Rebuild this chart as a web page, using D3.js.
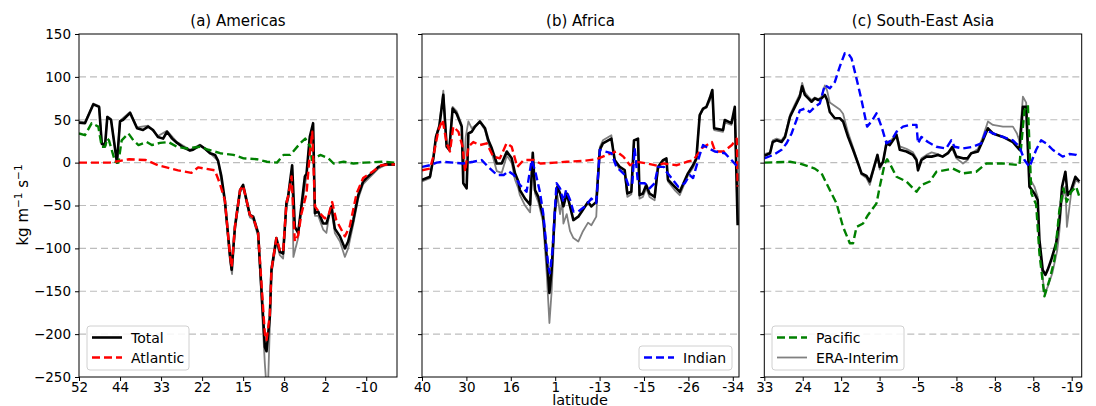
<!DOCTYPE html>
<html>
<head>
<meta charset="utf-8">
<script src="https://cdn.jsdelivr.net/npm/d3@7"></script>
<style>
  body { margin: 0; background: #fff; }
  text { font-family: "DejaVu Sans", sans-serif; }
</style>
</head>
<body>
<svg id="chart" width="1096" height="406"></svg>
<script>
// x values are positions along the boundary (index), tick labels are the latitudes there
const amTicks = ['52', '44', '33', '22', '15', '8', '2', '-10']
const afTicks = ['40', '30', '16', '1', '-13', '-15', '-26', '-34']
const seTicks = ['33', '24', '12', '3', '-5', '-8', '-8', '-8', '-19']

// (a) Americas
const amTotal = [[0,46.5],[2.9,46],[7,68],[9.8,65],[11.1,22],[12.7,20],[13.8,53],[15.6,50],[18.5,0],[20,48],[21.5,50],[24.9,58],[28.3,40],[31.2,38],[33.7,42],[36.1,38],[38.5,30],[41,28],[42.9,36],[45.4,28],[47.8,23],[50.7,18],[54.1,14],[55.6,15],[59,20],[61,17],[63.9,11],[66.3,9],[67.8,2],[69.4,-16],[71.1,-44],[73.5,-106],[74.4,-125],[76,-75],[78.5,-32],[80,-26],[83.3,-61],[84.9,-63],[87.3,-82],[90.6,-215],[91.4,-220],[93,-180],[93.8,-125],[96.2,-88],[97.9,-104],[99.5,-106],[101.1,-47],[101.9,-40],[103.9,-3],[105.2,-75],[106.8,-82],[108.4,-51],[110.1,-16],[110.9,-13],[112.5,30],[114.1,46],[115,-59],[116.6,-57],[119,-71],[120.6,-71],[123.1,-51],[124.7,-77],[127.2,-86],[129.6,-100],[131.2,-92],[133.7,-67],[136.1,-38],[138.5,-22],[140.1,-18],[143.4,-11],[145.9,-5],[149.1,-2],[154,-2]]
const amAtlantic = [[0,0],[15,0],[24.4,4],[32.5,3],[38.5,-3],[42.6,-5.5],[48.3,-9],[54.8,-12],[58.1,-5.5],[61.3,-7],[66.2,-9],[68.6,-24],[71.1,-44],[73.5,-106],[74.4,-122],[76,-75],[78.5,-32],[80,-27],[83.3,-61],[84.9,-64],[87.3,-82],[90.6,-200],[91.4,-207],[93,-178],[93.8,-125],[96.2,-88],[97.9,-102],[99.5,-104],[101.1,-47],[101.9,-40],[103.6,-16],[105.2,-92],[106.8,-85],[108.4,-60],[110.9,-36],[112.5,11],[113.7,36],[115,-51],[117.4,-59],[119.8,-65],[121.4,-63],[123.4,-46],[125.4,-67],[129.6,-86],[131.9,-75],[135.3,-36],[138.5,-18],[142.9,-11],[147.3,-3],[154,-2]]
const amPacific = [[0,34],[2.9,32],[6.2,46],[9.4,42],[11.1,18.5],[12.7,18.5],[13.8,28],[14.6,26],[17.6,1],[19.2,0],[20.8,26],[24.1,34],[26.5,26],[29,20.5],[33,24],[35.5,20.5],[39.5,23],[43.6,24],[47.7,18.5],[52.5,16.5],[59,18.5],[63.1,15],[68.8,11],[75.3,9],[80.2,5],[86.7,4],[91.6,1],[96.5,0],[99.7,9],[103,9],[107.8,22.5],[110.3,28],[112.7,18.5],[113.5,3],[117.6,9],[121.6,5],[124.1,-1],[129,1],[133.8,-1],[139,0],[148.3,1],[154,0]]
const amEra = [[0,48],[2.9,47],[7,69],[9.8,66],[11.1,24],[12.7,21],[13.8,54],[15.6,51],[18.5,1],[20,49],[24.9,59],[28.3,41],[33.7,43],[38.5,31],[42.9,37],[47.8,24],[54.1,15],[59,21],[63.9,11],[67.8,2],[71.1,-46],[73.5,-112],[74.6,-130],[76,-80],[78.5,-35],[80,-29],[83.3,-64],[84.9,-66],[87.3,-86],[90.6,-235],[91.4,-262],[92.2,-255],[93.8,-130],[96.2,-93],[97.9,-108],[99.5,-112],[101.1,-52],[101.9,-44],[103.9,-8],[104.5,-110],[106.8,-88],[108.4,-55],[110.9,-15],[112.5,28],[114.1,44],[115,-62],[116.6,-62],[119,-78],[120.6,-82],[122,-60],[123.1,-56],[124.7,-82],[127.2,-92],[129.6,-110],[131.2,-100],[133.7,-72],[136.1,-42],[138.5,-25],[140.1,-21],[143.4,-13],[145.9,-7],[149.1,-3],[154,-3]]

// (b) Africa
const afTotal = [[0,-20],[3.6,-16.5],[5.1,5],[6.3,30],[7.8,42],[9.6,79],[11.1,18.5],[12.3,15],[13.8,63],[15.6,57],[17.9,42],[18.6,-24],[20.1,-30],[20.9,34],[22.4,36],[23.9,42],[26.1,48],[28.4,40],[29.9,26],[31.4,17],[33.7,-1],[35.9,-1],[38.2,13],[40.4,5],[41.9,-12.5],[43.4,-22],[44.1,-32],[46.4,-42],[48.7,-49],[49.9,11.5],[50.9,-32],[52.4,-40],[54.6,-63],[56.2,-110],[57.4,-152],[58.4,-125],[59.9,-55],[61,-28],[62.2,-36],[63.7,-51],[65.2,-36],[66.7,-51],[68.2,-67],[70.4,-63],[72.5,-55],[74.8,-46],[76.3,-51],[78.5,-46],[80.1,15],[81.5,22.5],[85.3,28],[86.8,3],[89.1,-5],[91.3,-8.6],[92.5,-36],[94.3,-34],[95.5,26],[97.3,28],[98,-38],[99.5,-36],[101,-26],[102.5,-36],[104.8,-40],[106.3,-5],[108.6,3],[110.1,5],[110.8,-20],[113.8,-28],[116.1,-34],[119.8,-12.5],[122.1,-3],[123.6,5],[125.1,55.5],[126.6,63],[128.1,65],[129.6,75],[130.8,84.7],[131.6,40],[135.6,38],[136.4,49.7],[139.4,46],[140.9,65],[142.2,-73]]
const afAtlantic = [[0,-9],[3.6,-7],[5.1,7],[7.4,38],[9.3,50],[11.1,22.5],[12.6,13],[14.1,42],[16.4,36],[18.3,18.5],[19.4,-10.6],[20.9,18.5],[23.1,24],[26.1,20.5],[29.1,22.5],[32.1,7],[35.1,5],[38.1,22.5],[40.4,18.5],[42.9,-5],[45.8,3],[50.3,3],[53.3,-1],[59.9,0],[65.2,1],[72.7,2],[78.7,4],[83.2,9],[87.7,13],[90.7,7],[93.7,-3],[96.7,1],[101.3,-1],[105.8,-3.5],[108.8,-1],[114.8,-3],[119.3,1],[122.3,3],[126.1,17],[130.6,24],[132.1,13],[135.9,13],[139.6,20.5],[141.8,28],[142.2,-28]]
const afIndian = [[0,-5],[3.6,-3],[6.6,0],[9.6,1],[14.1,0],[18.6,-1],[23.1,1],[26.9,3],[29.5,-4],[33.8,-14.5],[36.8,-14.5],[39,-10],[41.4,-14.5],[44.1,-26],[47.1,-34],[49.4,3],[50.9,-9],[53.1,-34],[54.6,-59],[56.9,-121],[57.6,-129],[58.8,-102],[60.6,-24],[62.2,-30],[63.7,-45.6],[64.9,-32],[66.7,-43.6],[68.2,-57],[70.4,-57],[73.4,-51],[76.3,-42],[78.5,-47],[80.1,15],[82.4,13],[85.3,11],[87.6,-5],[91.4,-14.5],[92.9,-26],[94.7,-26],[95.8,17],[97.3,-24],[100.4,-24],[102.5,-30],[104.8,-24],[106.3,-5],[109,-5],[110.1,-10.6],[112.4,-18],[115.4,-28],[118.4,-24],[120.6,-14.5],[122.1,-18],[125.1,9],[126.6,20.5],[128.9,17],[131.9,13],[136.4,11],[139.4,3],[142.2,-5]]
const afEra = [[0,-22],[3.6,-18],[5.1,4],[6.3,31],[7.8,45],[9.6,84],[11.1,20],[12.3,17],[13.8,65],[15.6,60],[17.9,44],[18.6,-20],[19.7,30],[20.9,48],[22.4,40],[23.9,43],[26.1,47],[28.4,38],[29.9,22],[31.4,12],[33.7,-10],[35.9,-12],[38.2,8],[40.4,0],[41.9,-20],[43.4,-30],[44.1,-38],[46.4,-50],[48.7,-58],[49.9,8],[50.9,-36],[52.4,-46],[54.6,-70],[56.2,-130],[57.4,-187],[58.4,-150],[59.9,-60],[61,-38],[62.2,-60],[63.2,-44],[63.7,-71],[65.2,-60],[66.7,-80],[68.2,-88],[70.4,-92],[72.5,-80],[74.8,-70],[76.3,-73],[78.5,-63],[80.1,18],[81.5,26],[85.3,32],[86.8,2],[89.1,-8],[91.3,-12],[92.5,-40],[94.3,-37],[95.5,26],[97.3,26],[98,-42],[99.5,-40],[101,-30],[102.5,-40],[104.8,-44],[106.3,-8],[108.6,2],[110.1,3],[110.8,-22],[113.8,-32],[116.1,-38],[119.8,-15],[122.1,-6],[123.6,3],[125.1,55],[126.6,62],[128.1,64],[129.6,72],[130.8,80],[131.6,38],[135.6,36],[136.4,47],[139.4,44],[140.9,62],[142.2,-70]]

// (c) South-East Asia
const seTotal = [[0,8],[3,11],[4.4,24],[6.4,26],[9,24],[10.8,30],[13.4,53.5],[15.9,65],[18.5,77],[19.7,89],[21.1,79],[22.9,75],[24.6,71],[26.3,75],[28.1,73],[29.8,75],[31.5,79],[32.7,73],[34.1,59],[36.7,51.7],[39.3,51.7],[41,48],[43.6,30],[46.2,15],[48.8,-1],[50.6,-12.5],[53.2,-15.6],[54.9,-22],[56.6,-9],[58.9,9],[60.1,-5],[61.8,1],[63.6,22.5],[65.3,20.5],[68.8,32],[70.5,15],[74,13],[77.4,9],[79.2,3],[80,-9],[81.8,3],[84.4,7],[87.1,7],[90.4,9],[92.8,7],[95.6,11],[97.9,18.5],[100,7],[103.4,5],[105.8,5],[107.7,11],[111.2,13],[113.8,26],[116.4,40],[119,34],[124.2,30],[129.4,24],[132.8,15],[134.6,65],[136.3,65],[138,-28],[140.6,-36],[142.3,-43.6],[143.2,-90],[144.9,-125],[146.3,-131],[147.5,-125],[149.3,-113.6],[151.9,-94],[153.6,-67],[155,-28],[156.7,-10.6],[157.9,-38],[159.7,-32],[161.9,-16.5],[164,-22]]
const seIndian = [[0,5],[4.7,9],[9,15],[11.6,22.5],[14.2,34],[16.8,50],[18.5,61],[21.1,63],[23.7,59],[26.3,65],[28.9,69],[31.5,90.5],[34.1,86.6],[36.7,94],[39.3,112],[41.9,127.5],[43.6,127.5],[45.4,121.6],[48,98],[50.6,73],[53.5,42],[55.8,48],[58.4,57.5],[61,42],[63.6,22.5],[66.2,26],[68.8,36],[72.2,42],[75.7,44],[79.2,44],[80,22.5],[81.8,30],[85.2,24],[89.5,18.5],[94.7,16.5],[97.3,26],[99,18.5],[103.4,16.5],[108.6,18.5],[112.9,22.5],[115.6,38],[119,34],[124.2,30],[129.4,26],[132.8,18.5],[135.4,3],[138,-5],[141.5,15],[144.1,26],[146.7,22.5],[150.1,15],[155.3,7],[158.8,10],[162.3,9],[164,7]]
const sePacific = [[0,0],[13.4,1],[18.5,-1],[26.3,-7],[29.8,-12.5],[34.1,-32],[37.6,-47.5],[41,-75],[44.5,-94],[46.2,-94],[48,-75],[51.4,-71],[54,-61],[58.4,-47.5],[60.1,-28],[62.7,-1],[63.9,4],[66.2,-5],[68.8,-16.5],[74,-22],[79.2,-34],[81.8,-26],[86.1,-22],[89.6,-10.6],[98.2,-7],[103.4,-12.5],[110.3,-10.6],[115.6,-1],[124.4,-1],[132.8,-3],[135.4,61],[137.2,67],[139,-36],[141.5,-49],[143.2,-106],[145.8,-156],[148.4,-137],[151,-113.6],[153.6,-55],[155.7,-30],[157.4,-45.6],[159.7,-34],[162.3,-28],[164,-40]]
const seEra = [[0,10],[3,12],[4.4,26],[6.4,28],[9,26],[10.8,32],[13.4,56],[15.9,68],[18.5,80],[19.7,93],[21.1,82],[22.9,77],[24.6,73],[26.3,76],[28.1,74],[29.8,77],[31.5,90],[32.7,84],[34.1,70],[36.7,66],[39.3,62],[41,57],[43.6,35],[46.2,18],[48.8,0],[50.6,-14],[53.2,-18],[54.9,-26],[56.6,-11],[58.9,8],[60.1,-8],[61.8,0],[63.6,25],[65.3,24],[68.8,34],[70.5,19],[74,16],[77.4,12],[79.2,5],[80,-6],[81.8,5],[84.4,9],[87.1,12],[90.4,10],[92.8,7],[95.6,12],[97.9,16],[100,5],[103.4,-1],[105.8,3],[107.7,11],[111.2,16],[113.8,30],[116.4,48],[119,44],[124.2,42],[129.4,42],[131.5,34],[132.8,25],[134.6,77],[136.3,70],[138,-18],[140.6,-28],[142.3,-40],[143.2,-100],[145.8,-152],[147.5,-145],[149.9,-129],[152.5,-102],[153.6,-80],[154.7,-47.5],[156.7,-28],[157.5,-75],[159.7,-36],[162.3,-20],[164,-24]]

const yTicks = d3.range(-250, 151, 50)

const styles = {
  era:      {color: '#808080', width: 1.8, dash: null},
  total:    {color: '#000000', width: 2.6, dash: null},
  atlantic: {color: '#ff0000', width: 2.4, dash: '8,4'},
  pacific:  {color: '#008000', width: 2.4, dash: '8,4'},
  indian:   {color: '#0000ff', width: 2.4, dash: '8,4'}
}

const panels = [
  {id: 'a', title: '(a) Americas', x0: 79, x1: 397, max: 155, ticks: amTicks,
   series: [['era', amEra], ['total', amTotal], ['pacific', amPacific], ['atlantic', amAtlantic]],
   legend: {x: 87, y: 326, w: 102, h: 44, items: [['total', 'Total'], ['atlantic', 'Atlantic']]}},
  {id: 'b', title: '(b) Africa', x0: 422, x1: 739, max: 142.8, ticks: afTicks,
   series: [['era', afEra], ['total', afTotal], ['atlantic', afAtlantic], ['indian', afIndian]],
   legend: {x: 639, y: 346, w: 93, h: 24, items: [['indian', 'Indian']]}},
  {id: 'c', title: '(c) South-East Asia', x0: 764.3, x1: 1081.7, max: 165.2, ticks: seTicks,
   series: [['era', seEra], ['total', seTotal], ['pacific', sePacific], ['indian', seIndian]],
   legend: {x: 772, y: 326, w: 132, h: 44, items: [['pacific', 'Pacific'], ['era', 'ERA-Interim']]}}
]

const svg = d3.select('#chart')
const y = d3.scaleLinear().domain([-250, 150]).range([377, 34])

for (const p of panels) {
  const x = d3.scaleLinear().domain([0, p.max]).range([p.x0, p.x1])
  const g = svg.append('g')

  g.append('clipPath').attr('id', 'clip' + p.id)
    .append('rect')
    .attr('x', p.x0).attr('y', 34)
    .attr('width', p.x1 - p.x0).attr('height', 343)

  // dashed grid
  g.selectAll('.grid')
    .data(yTicks.filter(d => d > -250 && d < 150))
    .enter().append('line')
    .attr('x1', p.x0).attr('x2', p.x1)
    .attr('y1', d => y(d)).attr('y2', d => y(d))
    .style('stroke', '#bdbdbd')
    .style('stroke-width', 1.2)
    .attr('stroke-dasharray', '7,4')

  const line = d3.line().x(d => x(d[0])).y(d => y(d[1]))
  const plot = g.append('g').attr('clip-path', `url(#clip${p.id})`)
  for (const [key, data] of p.series) {
    const s = styles[key]
    plot.append('path')
      .datum(data)
      .attr('fill', 'none')
      .attr('stroke', s.color)
      .attr('stroke-width', s.width)
      .attr('stroke-linejoin', 'round')
      .attr('stroke-dasharray', s.dash)
      .attr('d', line)
  }

  // axes
  g.append('g')
    .attr('transform', 'translate(0,377)')
    .call(d3.axisBottom(x)
      .tickValues(p.ticks.map((t, i) => i * 20))
      .tickFormat((d, i) => p.ticks[i])
      .tickSize(4).tickPadding(1.5))
  g.append('g')
    .attr('transform', `translate(${p.x0},0)`)
    .call(d3.axisLeft(y)
      .tickValues(yTicks)
      .tickFormat(d => p.id == 'a' ? d3.format('d')(d) : '')
      .tickSize(4).tickPadding(4))
  g.selectAll('.domain').remove()
  g.selectAll('.tick text').style('font-size', '13.5px').style('fill', '#000')
  g.selectAll('.tick line').style('stroke', '#000').style('stroke-width', 1)

  g.append('rect')
    .attr('x', p.x0).attr('y', 34)
    .attr('width', p.x1 - p.x0).attr('height', 343)
    .attr('fill', 'none')
    .style('stroke', '#000')
    .style('stroke-width', 1)

  g.append('text')
    .attr('x', (p.x0 + p.x1) / 2)
    .attr('y', 26)
    .attr('text-anchor', 'middle')
    .style('font-size', '15px')
    .text(p.title)

  // legend
  const L = p.legend
  const lg = g.append('g')
  lg.append('rect')
    .attr('x', L.x).attr('y', L.y)
    .attr('width', L.w).attr('height', L.h)
    .attr('rx', 3)
    .attr('fill', 'white').attr('fill-opacity', 0.85)
    .style('stroke', '#d0d0d0')
  L.items.forEach(function(item, i) {
    const s = styles[item[0]]
    const ly = L.y + 11.5 + i * 20
    lg.append('line')
      .attr('x1', L.x + 5).attr('x2', L.x + 35)
      .attr('y1', ly).attr('y2', ly)
      .attr('stroke', s.color)
      .attr('stroke-width', s.width)
      .attr('stroke-dasharray', s.dash)
    lg.append('text')
      .attr('x', L.x + 44)
      .attr('y', ly + 5)
      .style('font-size', '14px')
      .text(item[1])
  })
}

// axis labels
const yl = svg.append('text')
  .attr('transform', 'translate(28,205) rotate(-90)')
  .attr('text-anchor', 'middle')
  .style('font-size', '15px')
yl.append('tspan').text('kg m')
yl.append('tspan').attr('dy', -6).style('font-size', '10.5px').text('\u22121')
yl.append('tspan').attr('dy', 6).text(' s')
yl.append('tspan').attr('dy', -6).style('font-size', '10.5px').text('\u22121')

svg.append('text')
  .attr('x', 580)
  .attr('y', 404.5)
  .attr('text-anchor', 'middle')
  .style('font-size', '14.5px')
  .text('latitude')
</script>
</body>
</html>
